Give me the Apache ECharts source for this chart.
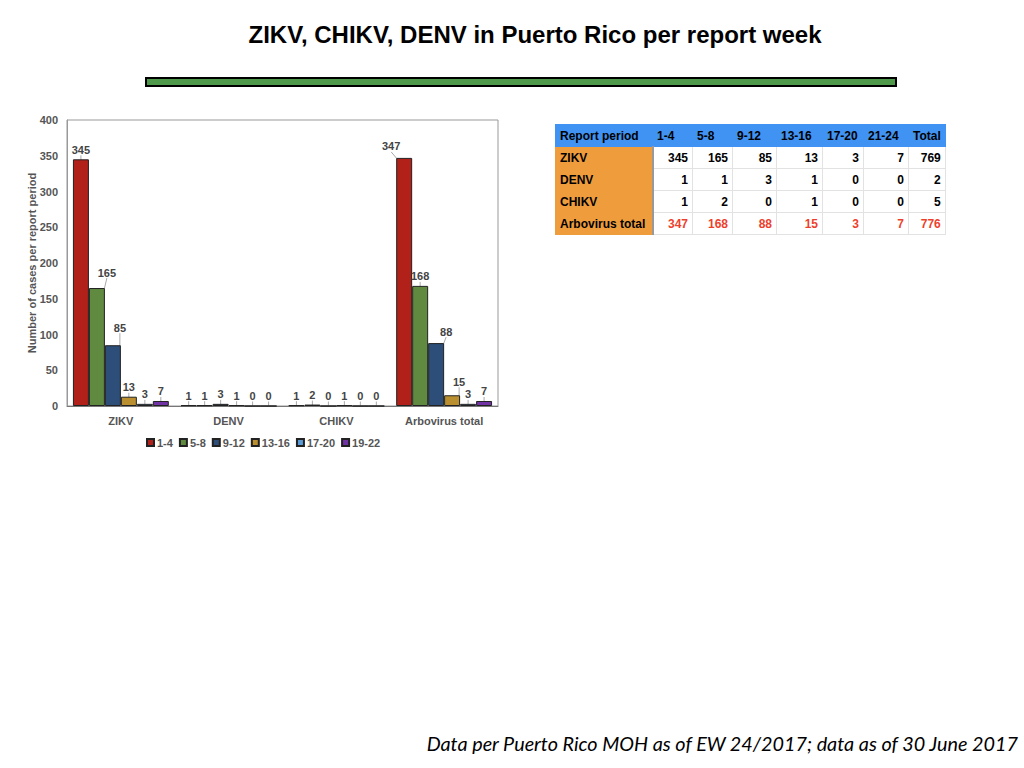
<!DOCTYPE html>
<html>
<head>
<meta charset="utf-8">
<title>ZIKV, CHIKV, DENV in Puerto Rico per report week</title>
<script src="https://cdn.jsdelivr.net/npm/echarts@6/dist/echarts.min.js"></script>
<style>
    body { margin: 0; background: #fff; }
    #page { position: relative; width: 1024px; height: 768px; overflow: hidden; font-family: "Liberation Sans", Arial, sans-serif; }
    #title { position: absolute; top: 21px; left: 0; width: 1070px; text-align: center; font-size: 24px; font-weight: bold; color: #000; }
    #rule { position: absolute; left: 145px; top: 77px; width: 752px; height: 10px; box-sizing: border-box; background: #4e9a4a; border: 2px solid #000; }
    #chart-container { position: absolute; left: 0; top: 100px; width: 540px; height: 370px; }
    #table { position: absolute; left: 555px; top: 124px; border-collapse: collapse; font-size: 12px; font-weight: bold; }
    #table td, #table th { height: 22px; padding: 0 4px; box-sizing: border-box; border: 1px solid #e2e2e2; text-align: right; white-space: nowrap; }
    #table th { background: #4193f3; text-align: left; border-color: #4193f3; }
    #table td.name { background: #ef9c3c; text-align: left; border-color: #ef9c3c; border-right: 2px solid #999; }
    #table tr.total td { color: #ee3f2c; }
    #table tr.total td.name { color: #000; }
    #footer { position: absolute; right: 6px; top: 731px; font-family: "Lato", "Open Sans", sans-serif; font-style: italic; font-size: 19.8px; color: #000; }
</style>
</head>
<body>
<div id="page">
    <div id="title">ZIKV, CHIKV, DENV in Puerto Rico per report week</div>
    <div id="rule"></div>
    <div id="chart-container"></div>
    <table id="table"></table>
    <div id="footer">Data per Puerto Rico MOH as of EW 24/2017; data as of 30 June 2017</div>
</div>
<script>
// chart data
var categories = ['ZIKV', 'DENV', 'CHIKV', 'Arbovirus total'];
var periods = ['1-4', '5-8', '9-12', '13-16', '17-20', '19-22'];
var p1_4 = [345, 1, 1, 347];
var p5_8 = [165, 1, 2, 168];
var p9_12 = [85, 3, 0, 88];
var p13_16 = [13, 1, 1, 15];
var p17_20 = [3, 0, 0, 3];
var p19_22 = [7, 0, 0, 7];
var colors = ['#b1211a', '#5f8a3f', '#2c4e78', '#b98f2f', '#5b9bd5', '#7132a3'];

// table data
var tableHeader = ['Report period', '1-4', '5-8', '9-12', '13-16', '17-20', '21-24', 'Total'];
var tableRowNames = ['ZIKV', 'DENV', 'CHIKV', 'Arbovirus total'];
var rowZikv = [345, 165, 85, 13, 3, 7, 769];
var rowDenv = [1, 1, 3, 1, 0, 0, 2];
var rowChikv = [1, 2, 0, 1, 0, 0, 5];
var rowArbo = [347, 168, 88, 15, 3, 7, 776];
var colWidths = [97, 40, 40, 44, 46, 41, 45, 36];

function visualize(container) {
    var chart = echarts.init(container, null, { renderer: 'svg' });
    var seriesData = [p1_4, p5_8, p9_12, p13_16, p17_20, p19_22];

    // labels nudged off their bars, the way the original placed them (series-category)
    var labelNudge = {
        '1-0': [10, -6],
        '2-0': [7, -8],
        '0-3': [-13, -2],
        '2-3': [10, -2],
        '3-3': [7, -4]
    };

    var series = periods.map(function (name, i) {
        return {
            name: name,
            type: 'bar',
            barGap: '0%',
            barCategoryGap: '11%',
            data: seriesData[i],
            itemStyle: { color: colors[i], borderColor: '#222', borderWidth: 1 },
            label: {
                show: true,
                position: 'top',
                distance: 4,
                fontSize: 11,
                fontWeight: 'bold',
                color: '#444'
            },
            labelLine: { show: true, lineStyle: { color: '#aaa', width: 1 } },
            labelLayout: function (params) {
                var n = labelNudge[params.seriesIndex + '-' + params.dataIndex];
                return n ? { dx: n[0], dy: n[1] } : {};
            }
        };
    });

    chart.setOption({
        animation: false,
        textStyle: { fontFamily: 'Liberation Sans, Arial, sans-serif' },
        grid: { left: 67, right: 42, top: 20, bottom: 64, show: true, borderColor: '#999', borderWidth: 1 },
        legend: {
            left: 141,
            top: 332,
            itemWidth: 7,
            itemHeight: 7,
            itemGap: 6,
            icon: 'rect',
            textStyle: { fontSize: 11, fontWeight: 'bold', color: '#555', padding: [0, 0, 0, -2] },
            data: periods
        },
        xAxis: {
            type: 'category',
            data: categories,
            axisTick: { show: false },
            axisLine: { lineStyle: { color: '#777' } },
            axisLabel: { fontSize: 11, fontWeight: 'bold', color: '#555', margin: 9 }
        },
        yAxis: {
            type: 'value',
            min: 0,
            max: 400,
            interval: 50,
            name: 'Number of cases per report period',
            nameLocation: 'middle',
            nameGap: 30,
            nameMoveOverlap: false,
            nameTextStyle: { fontSize: 11, fontWeight: 'bold', color: '#555' },
            axisLine: { show: true, lineStyle: { color: '#999' } },
            axisTick: { show: false },
            splitLine: { show: false },
            axisLabel: { fontSize: 11, fontWeight: 'bold', color: '#555', margin: 9 }
        },
        series: series
    });
}

function buildTable(table) {
    var rows = [rowZikv, rowDenv, rowChikv, rowArbo];
    var html = '<tr>';
    tableHeader.forEach(function (h, i) {
        html += '<th style="width:' + colWidths[i] + 'px">' + h + '</th>';
    });
    html += '</tr>';
    rows.forEach(function (row, r) {
        html += '<tr' + (r === rows.length - 1 ? ' class="total"' : '') + '>';
        html += '<td class="name">' + tableRowNames[r] + '</td>';
        row.forEach(function (v) {
            html += '<td>' + v + '</td>';
        });
        html += '</tr>';
    });
    table.innerHTML = html;
}

visualize(document.getElementById('chart-container'));
buildTable(document.getElementById('table'));
</script>
</body>
</html>
